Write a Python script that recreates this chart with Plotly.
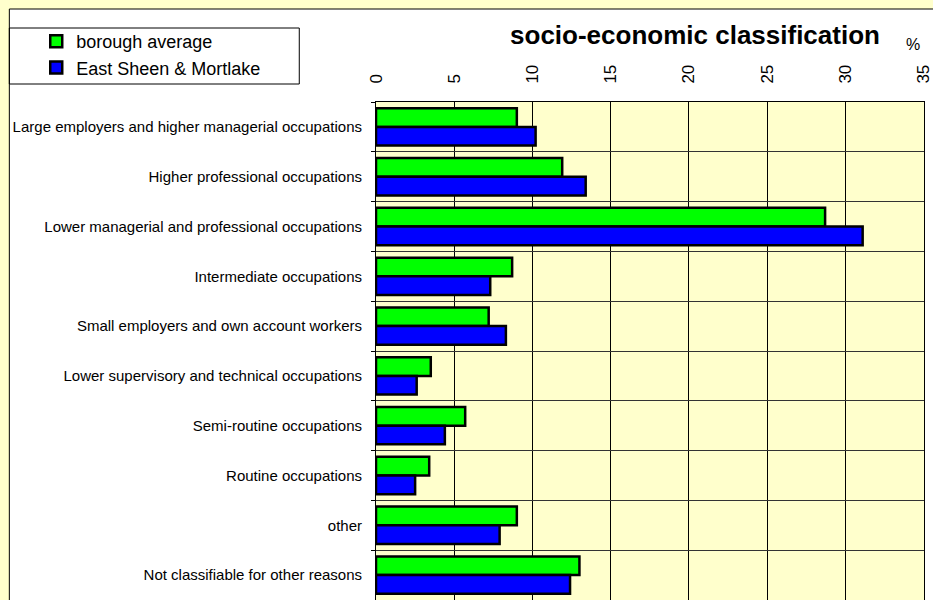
import plotly.graph_objects as go

categories = [
    "Large employers and higher managerial occupations",
    "Higher professional occupations",
    "Lower managerial and professional occupations",
    "Intermediate occupations",
    "Small employers and own account workers",
    "Lower supervisory and technical occupations",
    "Semi-routine occupations",
    "Routine occupations",
    "other",
    "Not classifiable for other reasons",
]
borough_average = [9.0, 11.9, 28.7, 8.7, 7.2, 3.5, 5.7, 3.4, 9.0, 13.0]
east_sheen_mortlake = [10.2, 13.4, 31.1, 7.3, 8.3, 2.6, 4.4, 2.5, 7.9, 12.4]
x_ticks = [0, 5, 10, 15, 20, 25, 30, 35]

W, H = 933, 600
L, R, T, B = 376, 7, 102, 0
PW, PH = W - L - R, H - T - B


def px_x(p):
    return (p - L) / PW


def px_y(p):
    return (H - B - p) / PH


fig = go.Figure()
fig.add_trace(go.Bar(
    y=categories, x=borough_average, orientation="h", name="borough average",
    marker=dict(color="#00FF00", line=dict(color="black", width=2.5)),
))
fig.add_trace(go.Bar(
    y=categories, x=east_sheen_mortlake, orientation="h", name="East Sheen & Mortlake",
    marker=dict(color="#0000FF", line=dict(color="black", width=2.5)),
))

shapes = [
    # white panel
    dict(type="rect", xref="paper", yref="paper", layer="below",
         x0=px_x(8), x1=px_x(W + 10), y0=px_y(H + 10), y1=px_y(9),
         fillcolor="white", line=dict(color="black", width=1)),
    # plot area background
    dict(type="rect", xref="paper", yref="paper", layer="below",
         x0=0, x1=1, y0=0, y1=1, fillcolor="#FFFFCC", line=dict(width=0)),
    # legend box
    dict(type="rect", xref="paper", yref="paper",
         x0=px_x(8), x1=px_x(299), y0=px_y(84), y1=px_y(28),
         fillcolor="rgba(0,0,0,0)", line=dict(color="black", width=1)),
]

fig.update_layout(
    width=W, height=H,
    margin=dict(l=L, r=R, t=T, b=B),
    paper_bgcolor="#FFFFCC",
    plot_bgcolor="#FFFFCC",
    barmode="group",
    bargap=0.25,
    bargroupgap=0,
    font=dict(family="Arial, Liberation Sans, sans-serif", color="black"),
    title=dict(text="<b>socio-economic classification</b>",
               x=695 / W, xanchor="center", y=1 - 35 / H, yanchor="middle",
               font=dict(size=26, color="black")),
    legend=dict(x=px_x(35), xanchor="left", y=px_y(23), yanchor="top",
                bgcolor="rgba(0,0,0,0)", borderwidth=0,
                font=dict(size=18), traceorder="normal"),
    shapes=shapes,
    annotations=[dict(text="%", xref="paper", yref="paper",
                      x=px_x(924), y=px_y(44), yanchor="middle", showarrow=False,
                      font=dict(size=16, color="black"))],
    xaxis=dict(side="top", range=[0, 35.02], tickvals=x_ticks,
               ticktext=[str(v) for v in x_ticks], tickangle=-90,
               tickfont=dict(size=17), showgrid=True, gridcolor="black",
               gridwidth=1, showline=True, linecolor="black", linewidth=1,
               ticks="outside", ticklen=14, tickcolor="rgba(0,0,0,0)",
               ticklabeloverflow="allow",
               zeroline=False, fixedrange=True),
    yaxis=dict(autorange="reversed", tickson="boundaries", ticks="outside",
               ticklen=4, tickcolor="black", showgrid=True, gridcolor="#333333",
               gridwidth=1, showline=True, linecolor="black", linewidth=1,
               mirror=True, tickfont=dict(size=15), ticklabelstandoff=10,
               fixedrange=True),
    showlegend=True,
)

fig.write_html("out.html", config={"displayModeBar": False},
               post_script="document.body.style.margin='0';")
